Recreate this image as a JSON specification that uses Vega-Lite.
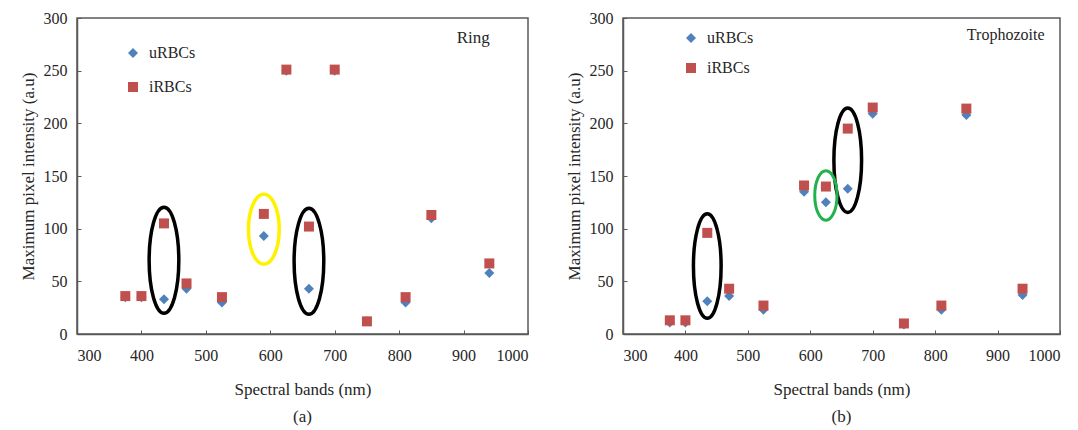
{
  "$schema": "https://vega.github.io/schema/vega-lite/v6.json",
  "padding": {"left": 18, "top": 9, "right": 0, "bottom": 0},
  "background": "white",
  "config": {
    "font": "Liberation Serif",
    "view": {"stroke": "#595959", "strokeWidth": 1.5},
    "axis": {
      "grid": false,
      "domainColor": "#595959", "domainWidth": 1.5,
      "tickColor": "#595959", "tickSize": -4, "tickWidth": 1,
      "labelFont": "Liberation Serif", "labelFontSize": 16, "labelColor": "#262626",
      "titleFont": "Liberation Serif", "titleFontSize": 17, "titleFontWeight": "normal", "titleColor": "#262626"
    },
    "legend": {"labelFont": "Liberation Serif", "labelFontSize": 16, "labelColor": "#262626"},
    "title": {"font": "Liberation Serif", "fontSize": 17, "fontWeight": "normal", "color": "#262626"}
  },
  "datasets": {
    "ring": [
      {"band": 375, "cells": "uRBCs", "intensity": 35},
      {"band": 400, "cells": "uRBCs", "intensity": 35},
      {"band": 435, "cells": "uRBCs", "intensity": 33},
      {"band": 470, "cells": "uRBCs", "intensity": 43},
      {"band": 525, "cells": "uRBCs", "intensity": 30},
      {"band": 590, "cells": "uRBCs", "intensity": 93},
      {"band": 625, "cells": "uRBCs", "intensity": 250},
      {"band": 660, "cells": "uRBCs", "intensity": 43},
      {"band": 700, "cells": "uRBCs", "intensity": 250},
      {"band": 750, "cells": "uRBCs", "intensity": 12},
      {"band": 810, "cells": "uRBCs", "intensity": 30},
      {"band": 850, "cells": "uRBCs", "intensity": 110},
      {"band": 940, "cells": "uRBCs", "intensity": 58},
      {"band": 375, "cells": "iRBCs", "intensity": 36},
      {"band": 400, "cells": "iRBCs", "intensity": 36},
      {"band": 435, "cells": "iRBCs", "intensity": 105},
      {"band": 470, "cells": "iRBCs", "intensity": 48},
      {"band": 525, "cells": "iRBCs", "intensity": 35},
      {"band": 590, "cells": "iRBCs", "intensity": 114},
      {"band": 625, "cells": "iRBCs", "intensity": 251},
      {"band": 660, "cells": "iRBCs", "intensity": 102},
      {"band": 700, "cells": "iRBCs", "intensity": 251},
      {"band": 750, "cells": "iRBCs", "intensity": 12},
      {"band": 810, "cells": "iRBCs", "intensity": 35},
      {"band": 850, "cells": "iRBCs", "intensity": 113},
      {"band": 940, "cells": "iRBCs", "intensity": 67}
    ],
    "troph": [
      {"band": 375, "cells": "uRBCs", "intensity": 11},
      {"band": 400, "cells": "uRBCs", "intensity": 11},
      {"band": 435, "cells": "uRBCs", "intensity": 31},
      {"band": 470, "cells": "uRBCs", "intensity": 36},
      {"band": 525, "cells": "uRBCs", "intensity": 23},
      {"band": 590, "cells": "uRBCs", "intensity": 135},
      {"band": 625, "cells": "uRBCs", "intensity": 125},
      {"band": 660, "cells": "uRBCs", "intensity": 138},
      {"band": 700, "cells": "uRBCs", "intensity": 209},
      {"band": 750, "cells": "uRBCs", "intensity": 9},
      {"band": 810, "cells": "uRBCs", "intensity": 23},
      {"band": 850, "cells": "uRBCs", "intensity": 208},
      {"band": 940, "cells": "uRBCs", "intensity": 37},
      {"band": 375, "cells": "iRBCs", "intensity": 13},
      {"band": 400, "cells": "iRBCs", "intensity": 13},
      {"band": 435, "cells": "iRBCs", "intensity": 96},
      {"band": 470, "cells": "iRBCs", "intensity": 43},
      {"band": 525, "cells": "iRBCs", "intensity": 27},
      {"band": 590, "cells": "iRBCs", "intensity": 141},
      {"band": 625, "cells": "iRBCs", "intensity": 140},
      {"band": 660, "cells": "iRBCs", "intensity": 195},
      {"band": 700, "cells": "iRBCs", "intensity": 215},
      {"band": 750, "cells": "iRBCs", "intensity": 10},
      {"band": 810, "cells": "iRBCs", "intensity": 27},
      {"band": 850, "cells": "iRBCs", "intensity": 214},
      {"band": 940, "cells": "iRBCs", "intensity": 43}
    ]
  },
  "spacing": 34,
  "resolve": {"scale": {"color": "independent", "shape": "independent"}, "legend": {"color": "independent", "shape": "independent"}},
  "hconcat": [
    {
      "width": 451,
      "height": 316,
      "title": {"text": "(a)", "orient": "bottom", "offset": 12},
      "layer": [
        {
          "data": {"name": "ring"},
          "mark": {"type": "point", "filled": true, "opacity": 1, "size": 100},
          "encoding": {
            "x": {"field": "band", "type": "quantitative", "scale": {"domain": [300, 1000], "nice": false}, "axis": {"title": "Spectral bands (nm)", "format": "d", "values": [300, 400, 500, 600, 700, 800, 900, 1000], "labelPadding": 17, "titlePadding": 18}},
            "y": {"field": "intensity", "type": "quantitative", "scale": {"domain": [0, 300], "nice": false}, "axis": {"title": "Maximum pixel intensity (a.u)", "values": [0, 50, 100, 150, 200, 250, 300], "labelPadding": 14, "titlePadding": 6}},
            "color": {"field": "cells", "type": "nominal", "scale": {"domain": ["uRBCs", "iRBCs"], "range": ["#4F81BD", "#C0504D"]}, "legend": {"title": null, "orient": "none", "legendX": 48, "legendY": 27, "rowPadding": 18, "labelOffset": 8, "symbolSize": 100, "padding": 0}},
            "shape": {"field": "cells", "type": "nominal", "scale": {"domain": ["uRBCs", "iRBCs"], "range": ["diamond", "square"]}, "legend": {"title": null, "orient": "none", "legendX": 48, "legendY": 27, "rowPadding": 18, "labelOffset": 8, "symbolSize": 100, "padding": 0}}
          }
        },
        {
          "data": {"values": [{"band": 435, "intensity": 70}, {"band": 660, "intensity": 69}]},
          "mark": {"type": "point", "filled": false, "stroke": "black", "strokeWidth": 3.5, "opacity": 1, "size": 11236, "shape": "M0,-1C0.155,-1,0.28,-0.552,0.28,0C0.28,0.552,0.155,1,0,1C-0.155,1,-0.28,0.552,-0.28,0C-0.28,-0.552,-0.155,-1,0,-1Z"},
          "encoding": {"x": {"field": "band", "type": "quantitative"}, "y": {"field": "intensity", "type": "quantitative"}}
        },
        {
          "data": {"values": [{"band": 590, "intensity": 99.5}]},
          "mark": {"type": "point", "filled": false, "stroke": "#FFF200", "strokeWidth": 3.5, "opacity": 1, "size": 4900, "shape": "M0,-1C0.243,-1,0.44,-0.552,0.44,0C0.44,0.552,0.243,1,0,1C-0.243,1,-0.44,0.552,-0.44,0C-0.44,-0.552,-0.243,-1,0,-1Z"},
          "encoding": {"x": {"field": "band", "type": "quantitative"}, "y": {"field": "intensity", "type": "quantitative"}}
        },
        {
          "data": {"values": [{"band": 915, "intensity": 281, "label": "Ring"}]},
          "mark": {"type": "text", "font": "Liberation Serif", "fontSize": 17, "color": "#262626", "align": "center", "baseline": "middle"},
          "encoding": {"x": {"field": "band", "type": "quantitative"}, "y": {"field": "intensity", "type": "quantitative"}, "text": {"field": "label"}}
        }
      ]
    },
    {
      "width": 437,
      "height": 316,
      "title": {"text": "(b)", "orient": "bottom", "offset": 12},
      "layer": [
        {
          "data": {"name": "troph"},
          "mark": {"type": "point", "filled": true, "opacity": 1, "size": 100},
          "encoding": {
            "x": {"field": "band", "type": "quantitative", "scale": {"domain": [300, 1000], "nice": false}, "axis": {"title": "Spectral bands (nm)", "format": "d", "values": [300, 400, 500, 600, 700, 800, 900, 1000], "labelPadding": 17, "titlePadding": 18}},
            "y": {"field": "intensity", "type": "quantitative", "scale": {"domain": [0, 300], "nice": false}, "axis": {"title": "Maximum pixel intensity (a.u)", "values": [0, 50, 100, 150, 200, 250, 300], "labelPadding": 14, "titlePadding": 6}},
            "color": {"field": "cells", "type": "nominal", "scale": {"domain": ["uRBCs", "iRBCs"], "range": ["#4F81BD", "#C0504D"]}, "legend": {"title": null, "orient": "none", "legendX": 60, "legendY": 12, "rowPadding": 14, "labelOffset": 8, "symbolSize": 100, "padding": 0}},
            "shape": {"field": "cells", "type": "nominal", "scale": {"domain": ["uRBCs", "iRBCs"], "range": ["diamond", "square"]}, "legend": {"title": null, "orient": "none", "legendX": 60, "legendY": 12, "rowPadding": 14, "labelOffset": 8, "symbolSize": 100, "padding": 0}}
          }
        },
        {
          "data": {"values": [{"band": 435, "intensity": 64.5}, {"band": 660, "intensity": 165}]},
          "mark": {"type": "point", "filled": false, "stroke": "black", "strokeWidth": 3.5, "opacity": 1, "size": 10920, "shape": "M0,-1C0.146,-1,0.265,-0.552,0.265,0C0.265,0.552,0.146,1,0,1C-0.146,1,-0.265,0.552,-0.265,0C-0.265,-0.552,-0.146,-1,0,-1Z"},
          "encoding": {"x": {"field": "band", "type": "quantitative"}, "y": {"field": "intensity", "type": "quantitative"}}
        },
        {
          "data": {"values": [{"band": 625, "intensity": 131.5}]},
          "mark": {"type": "point", "filled": false, "stroke": "#22B14C", "strokeWidth": 3, "opacity": 1, "size": 2450, "shape": "M0,-1C0.248,-1,0.45,-0.552,0.45,0C0.45,0.552,0.248,1,0,1C-0.248,1,-0.45,0.552,-0.45,0C-0.45,-0.552,-0.248,-1,0,-1Z"},
          "encoding": {"x": {"field": "band", "type": "quantitative"}, "y": {"field": "intensity", "type": "quantitative"}}
        },
        {
          "data": {"values": [{"band": 913, "intensity": 284, "label": "Trophozoite"}]},
          "mark": {"type": "text", "font": "Liberation Serif", "fontSize": 16, "color": "#262626", "align": "center", "baseline": "middle"},
          "encoding": {"x": {"field": "band", "type": "quantitative"}, "y": {"field": "intensity", "type": "quantitative"}, "text": {"field": "label"}}
        }
      ]
    }
  ]
}
